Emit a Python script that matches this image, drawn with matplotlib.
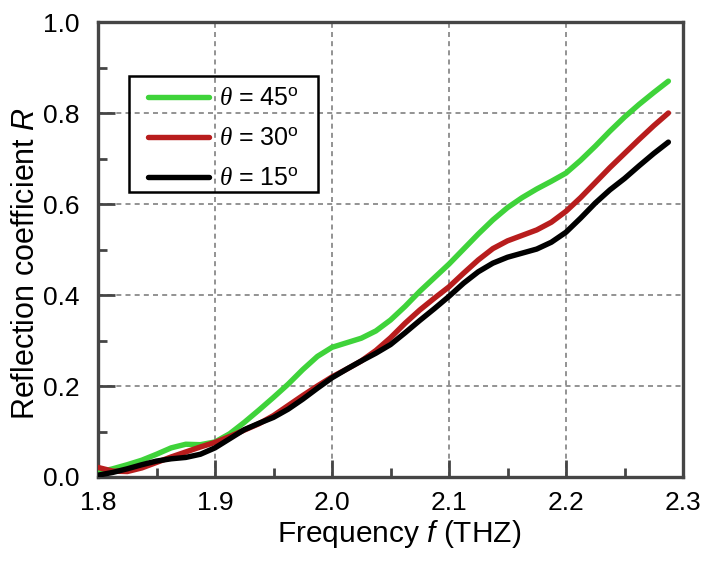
import matplotlib
matplotlib.use("Agg")
import matplotlib.pyplot as plt
from matplotlib.ticker import MultipleLocator
from matplotlib.patches import Rectangle

plt.rcParams['font.family'] = ['Liberation Sans', 'DejaVu Sans']
plt.rcParams['mathtext.fontset'] = 'custom'
plt.rcParams['mathtext.rm'] = 'Liberation Sans'
plt.rcParams['mathtext.it'] = 'Liberation Serif:italic'
plt.rcParams['mathtext.sf'] = 'Liberation Sans:italic'

freq = [1.80, 1.8125, 1.825, 1.8375, 1.85, 1.8625, 1.875, 1.8875, 1.90, 1.9125,
        1.925, 1.9375, 1.95, 1.9625, 1.975, 1.9875, 2.00, 2.0125, 2.025, 2.0375,
        2.05, 2.0625, 2.075, 2.0875, 2.10, 2.1125, 2.125, 2.1375, 2.15, 2.1625,
        2.175, 2.1875, 2.20, 2.2125, 2.225, 2.2375, 2.25, 2.2625, 2.275, 2.2875]

r45 = [0.010, 0.018, 0.027, 0.037, 0.050, 0.064, 0.072, 0.071, 0.077, 0.095,
       0.120, 0.147, 0.175, 0.204, 0.236, 0.265, 0.285, 0.295, 0.305, 0.321,
       0.345, 0.375, 0.408, 0.438, 0.468, 0.501, 0.534, 0.565, 0.592, 0.614,
       0.633, 0.650, 0.668, 0.696, 0.727, 0.760, 0.791, 0.819, 0.845, 0.870]

r30 = [0.021, 0.013, 0.012, 0.020, 0.032, 0.044, 0.055, 0.066, 0.076, 0.089,
       0.103, 0.117, 0.135, 0.157, 0.179, 0.200, 0.220, 0.237, 0.255, 0.278,
       0.306, 0.338, 0.367, 0.393, 0.418, 0.448, 0.477, 0.502, 0.519, 0.531,
       0.543, 0.560, 0.584, 0.614, 0.647, 0.680, 0.711, 0.742, 0.772, 0.800]

r15 = [0.004, 0.010, 0.018, 0.027, 0.035, 0.040, 0.043, 0.050, 0.064, 0.084,
       0.104, 0.118, 0.131, 0.149, 0.171, 0.195, 0.218, 0.237, 0.255, 0.272,
       0.291, 0.317, 0.344, 0.370, 0.397, 0.426, 0.451, 0.470, 0.483, 0.492,
       0.501, 0.516, 0.538, 0.569, 0.602, 0.631, 0.656, 0.684, 0.711, 0.736]

labels = [r'$\theta$ = 45$^{\rm o}$', r'$\theta$ = 30$^{\rm o}$', r'$\theta$ = 15$^{\rm o}$']
colors = ['#3fd33a', '#b81d1d', '#000000']
xticks = [1.8, 1.9, 2.0, 2.1, 2.2, 2.3]
yticks = [0.0, 0.2, 0.4, 0.6, 0.8, 1.0]

fig = plt.figure(figsize=(7.04, 5.63), dpi=100)
ax = fig.add_axes([98/704, 1 - 477/563, 585/704, 455/563])

for y, c, lab in zip([r45, r30, r15], colors, labels):
    ax.plot(freq, y, color=c, lw=3.9, label=lab, solid_capstyle='round',
            solid_joinstyle='round', zorder=3)

ax.set_xlim(1.8, 2.3)
ax.set_ylim(0.0, 1.0)
ax.set_xticks(xticks)
ax.set_yticks(yticks)
ax.set_xticklabels([f'{v:.1f}' for v in xticks])
ax.set_yticklabels([f'{v:.1f}' for v in yticks])
ax.xaxis.set_minor_locator(MultipleLocator(0.05))
ax.yaxis.set_minor_locator(MultipleLocator(0.1))

ax.grid(True, which='major', color='#808080', linestyle=(0, (3, 2.5)), linewidth=1.2, zorder=1)
ax.set_axisbelow(True)

spine_c = '#454545'
for s in ax.spines.values():
    s.set_color(spine_c)
    s.set_linewidth(2.4)
ax.tick_params(which='major', direction='in', length=12, width=2, color=spine_c,
               labelsize=19, top=False, right=False)
ax.tick_params(axis='x', which='major', pad=10)
ax.tick_params(axis='y', which='major', pad=13)
ax.tick_params(which='minor', direction='in', length=6.5, width=2, color=spine_c,
               top=False, right=False)

ax.set_xlabel(r'Frequency $\mathsf{f}$ (THZ)', fontsize=21.5)
ax.set_ylabel(r'Reflection coefficient $\mathsf{R}$', fontsize=22)
ax.xaxis.set_label_coords(0.515, -0.090)
ax.yaxis.set_label_coords(-0.097, 0.47)

# legend frame (transparent, grid shows through)
ax.add_patch(Rectangle((0.053, 0.626), 0.323, 0.255, transform=ax.transAxes,
                       fill=False, edgecolor='black', linewidth=1.8, zorder=5))
leg = ax.legend(loc='upper left', bbox_to_anchor=(0.0855, 0.857), borderaxespad=0,
                fontsize=18, frameon=False,
                handlelength=2.45, handletextpad=0.4, labelspacing=0.64,
                borderpad=0)
leg.set_zorder(5)

fig.savefig('out.png', dpi=100)
